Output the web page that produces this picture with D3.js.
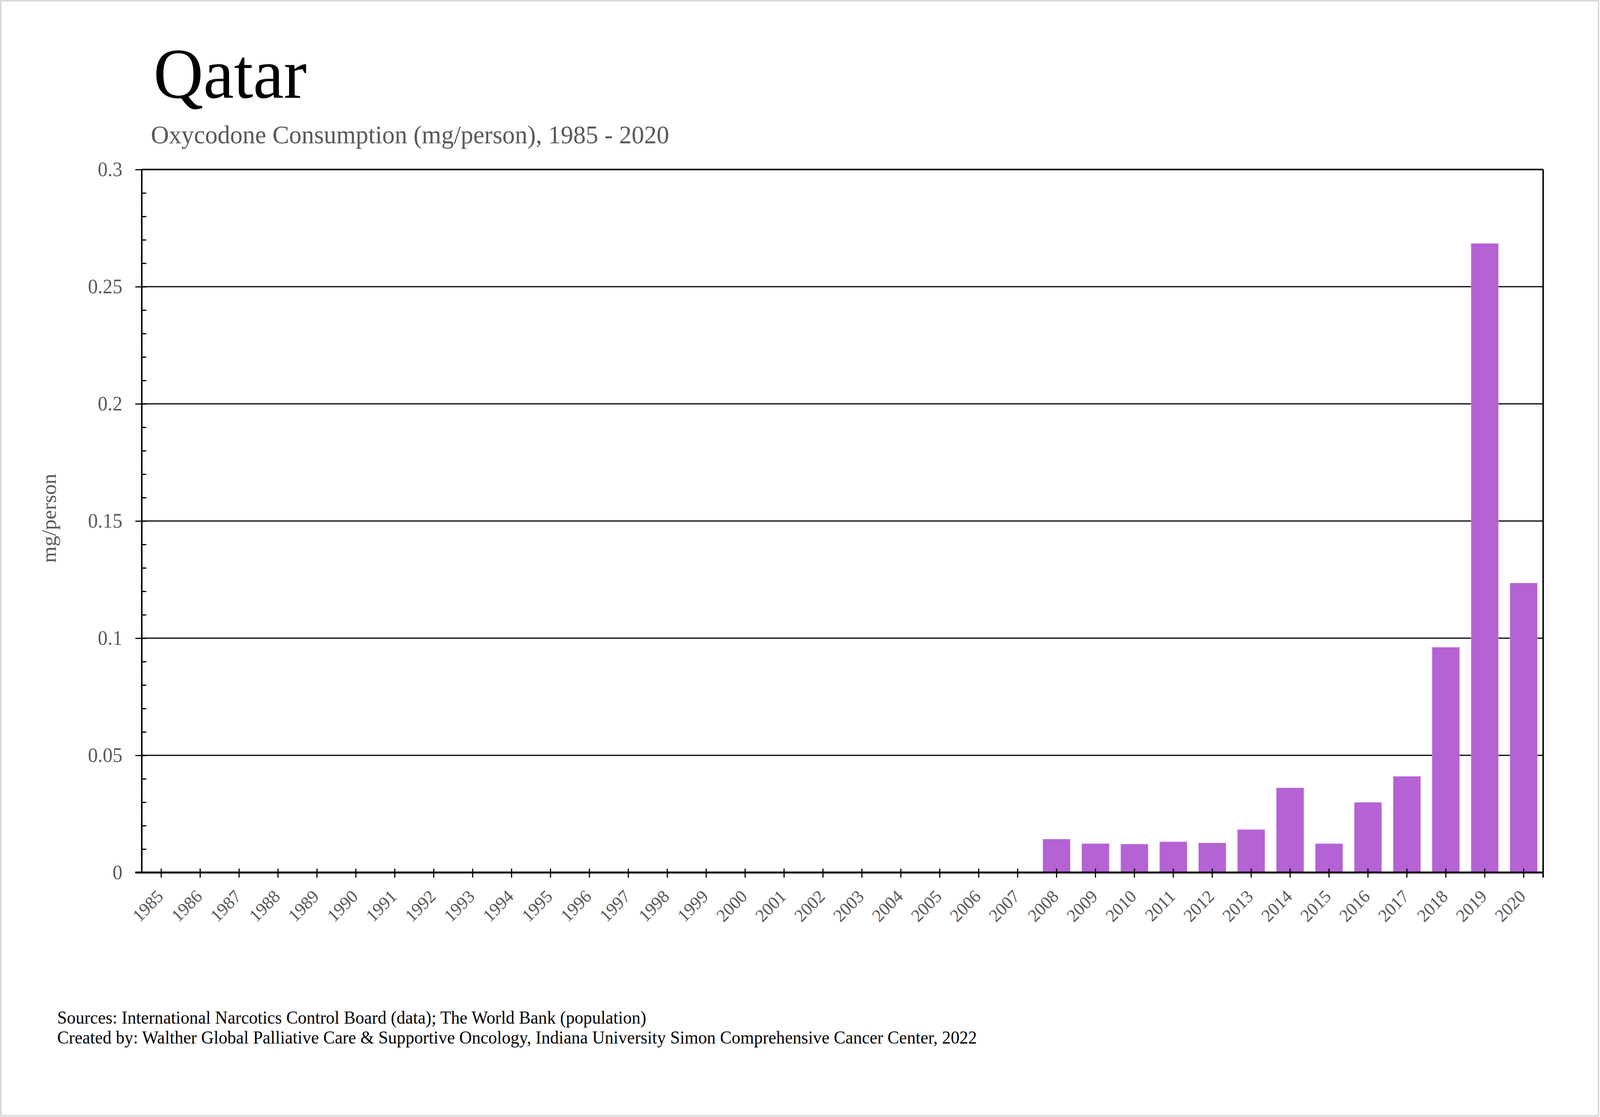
<!DOCTYPE html>
<html>
<head>
<meta charset="utf-8">
<script src="https://cdn.jsdelivr.net/npm/d3@7"></script>
<style>
  html, body { margin: 0; padding: 0; background: #fff; overflow: hidden; width: 100%; height: 100%; }
  #chart { width: 100vw; height: 100vh; }
  svg { display: block; }
  text { font-family: "Liberation Serif", "Times New Roman", serif; }
</style>
</head>
<body>
<div id="chart"></div>
<script>
// Years on the x axis
var years = ['1985', '1986', '1987', '1988', '1989', '1990', '1991', '1992', '1993', '1994',
  '1995', '1996', '1997', '1998', '1999', '2000', '2001', '2002', '2003', '2004', '2005',
  '2006', '2007', '2008', '2009', '2010', '2011', '2012', '2013', '2014', '2015', '2016',
  '2017', '2018', '2019', '2020'];

// Oxycodone consumption, mg/person
var consumption = [0, 0, 0, 0, 0, 0, 0, 0, 0, 0,
  0, 0, 0, 0, 0, 0, 0, 0, 0, 0, 0,
  0, 0, 0.0142, 0.0123, 0.0121, 0.0131, 0.0126, 0.0183, 0.0361, 0.0123, 0.0299,
  0.0410, 0.0961, 0.2684, 0.1235];

var yTicks = [0, 0.05, 0.1, 0.15, 0.2, 0.25, 0.3];
var yTickLabels = ['0', '0.05', '0.1', '0.15', '0.2', '0.25', '0.3'];

var W = 4221, H = 2860;
var margin = {top: 434, right: 150, bottom: 626, left: 374};
var width = W - margin.left - margin.right,
    height = H - margin.top - margin.bottom;

// drawn in a 4221x2860 box, stretched to whatever the window really is
var svg = d3.select('#chart').append('svg')
  .attr('width', '100%')
  .attr('height', '100%')
  .attr('viewBox', '0 0 ' + W + ' ' + H)
  .attr('preserveAspectRatio', 'none');

// Light frame round the whole picture
svg.append('rect')
  .attr('x', 2).attr('y', 2)
  .attr('width', W - 6).attr('height', H - 5)
  .style('fill', '#fff')
  .style('stroke', '#d9d9d9')
  .style('stroke-width', 4);

// Titles
svg.append('text')
  .attr('x', 405).attr('y', 250)
  .style('font-size', '182px')
  .style('fill', '#000')
  .text('Qatar');

svg.append('text')
  .attr('x', 398).attr('y', 367)
  .style('font-size', '66px')
  .style('fill', '#595959')
  .text('Oxycodone Consumption (mg/person), 1985 - 2020');

var g = svg.append('g')
  .attr('transform', 'translate(' + margin.left + ',' + margin.top + ')');

var x = d3.scaleBand()
  .domain(years)
  .range([0, width])
  .paddingInner(0.3)
  .paddingOuter(0.15);

var y = d3.scaleLinear()
  .domain([0, 0.3])
  .range([height, 0]);

// Gridlines
g.selectAll('line.grid')
  .data(yTicks.slice(1, -1))
  .enter().append('line')
  .attr('class', 'grid')
  .attr('x1', 0).attr('x2', width)
  .attr('y1', d => y(d)).attr('y2', d => y(d))
  .style('stroke', '#000')
  .style('stroke-width', 3);

// Bars
g.selectAll('rect.bar')
  .data(years.map((yr, i) => ({year: yr, value: consumption[i]})).filter(d => d.value > 0))
  .enter().append('rect')
  .attr('class', 'bar')
  .attr('x', d => x(d.year))
  .attr('width', x.bandwidth())
  .attr('y', d => y(d.value))
  .attr('height', d => y(0) - y(d.value))
  .style('fill', '#b462d4')
  .style('stroke', '#cf96e6')
  .style('stroke-width', 1);

// Top and right frame
g.append('line')
  .attr('x1', 0).attr('x2', width)
  .attr('y1', 0).attr('y2', 0)
  .style('stroke', '#000').style('stroke-width', 4);
g.append('line')
  .attr('x1', width).attr('x2', width)
  .attr('y1', 0).attr('y2', height + 13)
  .style('stroke', '#000').style('stroke-width', 4);

// Minor y ticks (inside)
g.append('g')
  .call(d3.axisRight(y).tickValues(y.ticks(30)).tickSize(12).tickFormat(''))
  .call(a => a.select('.domain').remove())
  .selectAll('line').style('stroke', '#000').style('stroke-width', 3);

// Y axis
var yAxis = g.append('g')
  .call(d3.axisLeft(y)
    .tickValues(yTicks)
    .tickSize(17)
    .tickPadding(34)
    .tickFormat((d, i) => yTickLabels[i]));
yAxis.select('.domain')
  .attr('d', 'M0,' + (height + 2) + 'V0')
  .style('stroke', '#000').style('stroke-width', 4);
yAxis.selectAll('line').style('stroke', '#000').style('stroke-width', 3);
yAxis.selectAll('text')
  .style('font-family', '"Liberation Serif", serif')
  .style('font-size', '52px')
  .style('fill', '#595959');

// X axis
var xAxis = g.append('g')
  .attr('transform', 'translate(0,' + height + ')')
  .call(d3.axisBottom(x).tickSize(13).tickSizeOuter(0));
xAxis.select('.domain')
  .attr('d', 'M-17,0H' + width)
  .style('stroke', '#000').style('stroke-width', 5);
xAxis.selectAll('line')
  .attr('y1', -10)
  .style('stroke', '#000').style('stroke-width', 3);
xAxis.selectAll('text')
  .attr('x', 0).attr('y', 0).attr('dy', 0)
  .attr('transform', 'translate(8,64) rotate(-45)')
  .style('text-anchor', 'end')
  .style('font-family', '"Liberation Serif", serif')
  .style('font-size', '46px')
  .style('fill', '#595959');

// Y axis title
svg.append('text')
  .attr('transform', 'translate(147,1327) rotate(-90)')
  .style('text-anchor', 'middle')
  .style('font-size', '54px')
  .style('fill', '#595959')
  .text('mg/person');

// Sources
svg.append('text')
  .attr('x', 151).attr('y', 2621)
  .style('font-size', '46px')
  .style('fill', '#000')
  .text('Sources: International Narcotics Control Board (data); The World Bank (population)');
svg.append('text')
  .attr('x', 151).attr('y', 2672)
  .style('font-size', '46px')
  .style('fill', '#000')
  .text('Created by: Walther Global Palliative Care & Supportive Oncology, Indiana University Simon Comprehensive Cancer Center, 2022');
</script>
</body>
</html>
